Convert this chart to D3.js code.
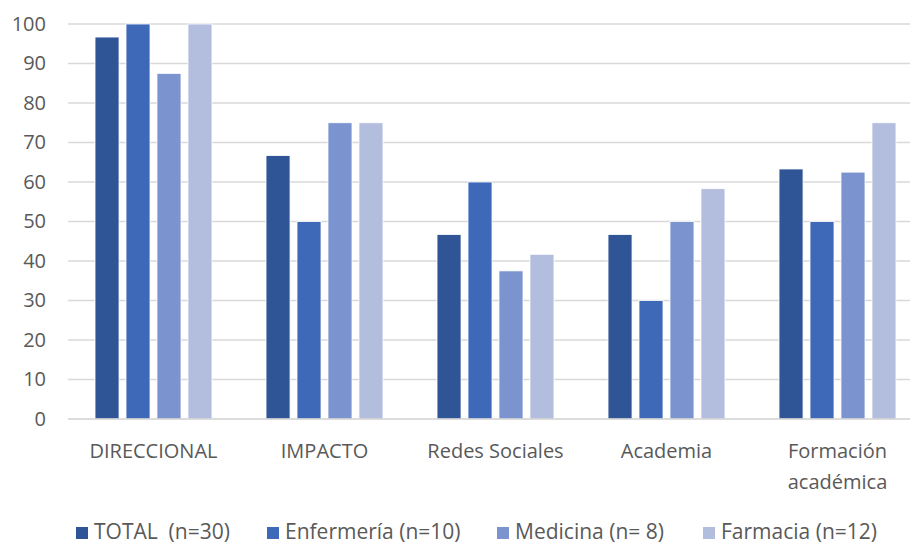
<!DOCTYPE html>
<html>
<head>
<meta charset="utf-8">
<script src="https://cdn.jsdelivr.net/npm/d3@7"></script>
<style>
  html, body { margin: 0; padding: 0; background: #fff; }
  svg { display: block; }
  text { font-family: "Open Sans", Arial, sans-serif; fill: #595959; }
</style>
</head>
<body>
<svg id="chart" width="912" height="544"></svg>
<script>
// Categories and series (percentages)
const categories = ["DIRECCIONAL", "IMPACTO", "Redes Sociales", "Academia", "Formación académica"];
const seriesNames = ["TOTAL  (n=30)", "Enfermería (n=10)", "Medicina (n= 8)", "Farmacia (n=12)"];
const totalValues = [96.7, 66.7, 46.7, 46.7, 63.3];
const enfermeriaValues = [100, 50, 60, 30, 50];
const medicinaValues = [87.5, 75, 37.5, 50, 62.5];
const farmaciaValues = [100, 75, 41.7, 58.3, 75];
const yTicks = [0, 10, 20, 30, 40, 50, 60, 70, 80, 90, 100];

const seriesValues = [totalValues, enfermeriaValues, medicinaValues, farmaciaValues];
const colors = ["#305597", "#3E69B8", "#7B93CF", "#B3BEDF"];

const svg = d3.select("#chart");
const width = 912, height = 544;
const plotLeft = 68, plotRight = 910, plotTop = 24, plotBottom = 419;

// Category bands: step ~171px, groups of four bars
const x0 = d3.scaleBand().domain(categories)
  .range([68, 923]).paddingInner(0.316).paddingOuter(0.158);
const x1 = d3.scaleBand().domain(d3.range(seriesNames.length))
  .range([0, x0.bandwidth()]).paddingInner(0.225);
const y = d3.scaleLinear().domain([0, 100]).range([plotBottom, plotTop]);

// Horizontal gridlines
svg.append("g").selectAll("line").data(yTicks.filter(d => d > 0)).join("line")
  .attr("x1", plotLeft).attr("x2", plotRight)
  .attr("y1", d => y(d)).attr("y2", d => y(d))
  .attr("stroke", "#d9d9d9").attr("stroke-width", 1.6);

// Y axis labels
const yAxis = d3.axisLeft(y).tickValues(yTicks).tickSize(0).tickPadding(0);
const ya = svg.append("g").attr("transform", `translate(46,0)`).call(yAxis);
ya.select(".domain").remove();
ya.selectAll("text").style("font-size", "20px").attr("fill", "#595959")
  .style("font-family", "'Open Sans', Arial, sans-serif");

// Bars
const groups = svg.append("g").selectAll("g").data(categories).join("g")
  .attr("transform", d => `translate(${x0(d)},0)`);
groups.selectAll("rect")
  .data((c, ci) => seriesValues.map((vals, si) => ({ si, v: vals[ci] })))
  .join("rect")
  .attr("x", d => x1(d.si))
  .attr("width", x1.bandwidth())
  .attr("y", d => y(d.v))
  .attr("height", d => y(0) - y(d.v))
  .attr("fill", d => colors[d.si])
  .attr("stroke", "#ffffff").attr("stroke-width", 0.8);

// Baseline
svg.append("line")
  .attr("x1", plotLeft).attr("x2", plotRight)
  .attr("y1", y(0)).attr("y2", y(0))
  .attr("stroke", "#d0d0d0").attr("stroke-width", 1.6);

// X category labels (wrapped)
const xLabelLines = { "Formación académica": ["Formación", "académica"] };
const xa = svg.append("g");
categories.forEach(c => {
  const lines = xLabelLines[c] || [c];
  const cx = x0(c) + x0.bandwidth() / 2;
  const t = xa.append("text").attr("text-anchor", "middle")
    .attr("x", cx).attr("y", 458)
    .style("font-size", "20px");
  lines.forEach((ln, i) => t.append("tspan")
    .attr("x", cx).attr("dy", i === 0 ? 0 : 31).text(ln));
});

// Legend
const legendX = [76, 267, 497, 703];
const legend = svg.append("g");
seriesNames.forEach((name, i) => {
  legend.append("rect").attr("x", legendX[i]).attr("y", 527)
    .attr("width", 12).attr("height", 12).attr("fill", colors[i]);
  legend.append("text").attr("x", legendX[i] + 18).attr("y", 539)
    .style("font-size", "21px").style("white-space", "pre")
    .attr("xml:space", "preserve").text(name);
});
</script>
</body>
</html>
